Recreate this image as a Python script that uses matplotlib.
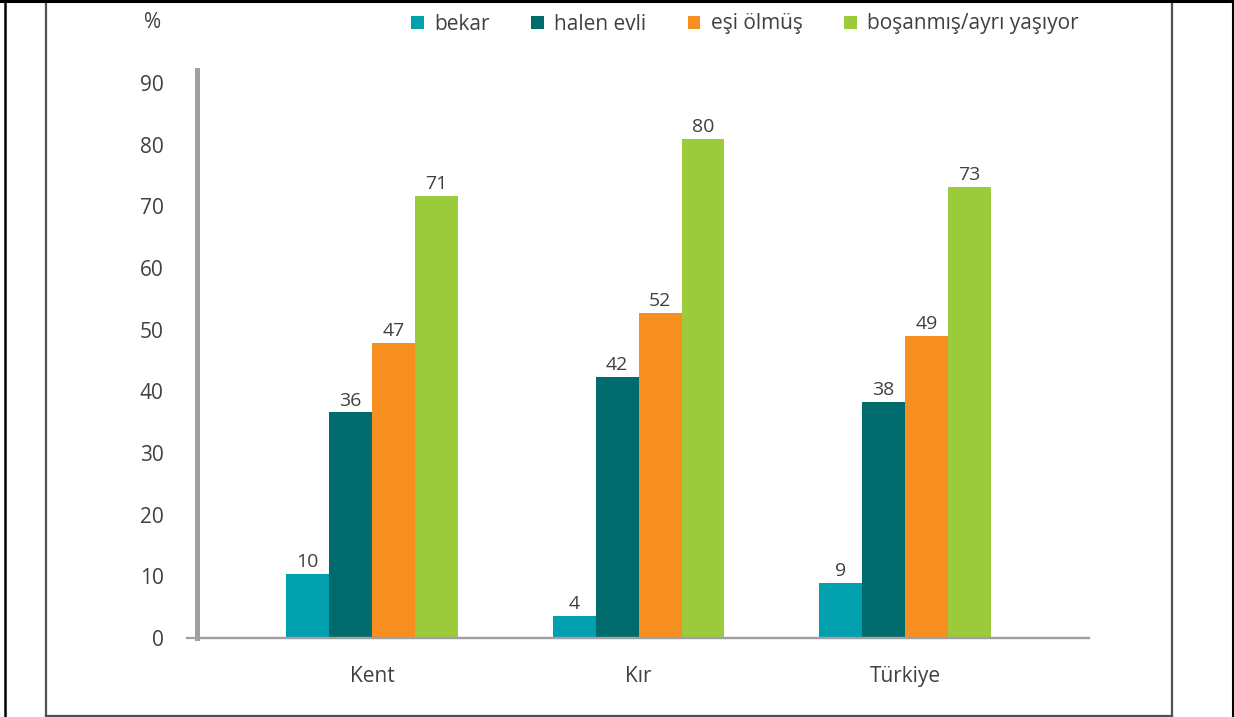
import numpy as np
import matplotlib
matplotlib.use("Agg")
import matplotlib.pyplot as plt
from matplotlib.lines import Line2D

plt.rcParams['font.family'] = ['Open Sans', 'DejaVu Sans']

categories = ['Kent', 'Kır', 'Türkiye']
series = ['bekar', 'halen evli', 'eşi ölmüş', 'boşanmış/ayrı yaşıyor']
# bar heights, labels as printed
bekar = [10.4, 3.6, 8.9]
halen_evli = [36.6, 42.3, 38.3]
esi_olmus = [47.8, 52.7, 49.0]
bosanmis = [71.7, 80.9, 73.1]
bekar_lbl = ['10', '4', '9']
halen_evli_lbl = ['36', '42', '38']
esi_olmus_lbl = ['47', '52', '49']
bosanmis_lbl = ['71', '80', '73']
colors = ['#00A0AF', '#006B6C', '#F68F1F', '#9BCB3B']

W, H = 1234, 717
fig = plt.figure(figsize=(W / 100, H / 100), dpi=100)
ax = fig.add_axes([197 / W, (H - 638) / H, (1089 - 197) / W, (638 - 70) / H])

index = np.arange(len(categories))
w = 0.161
txt = '#404040'
vals_all = [bekar, halen_evli, esi_olmus, bosanmis]
lbls_all = [bekar_lbl, halen_evli_lbl, esi_olmus_lbl, bosanmis_lbl]
for k, name in enumerate(series):
    bars = ax.bar(index + (k - 1.5) * w, vals_all[k], width=w, color=colors[k], label=name)
    ax.bar_label(bars, labels=lbls_all[k], padding=2, fontsize=14, color=txt)

ax.set_xlim(-0.657, 2.69)
ax.set_ylim(0, 92.1)
ax.set_yticks(range(0, 91, 10))
ax.set_xticks(index, categories)
ax.tick_params(axis='y', length=0, pad=24, labelsize=15, labelcolor=txt)
ax.tick_params(axis='x', length=0, pad=20, labelsize=15, labelcolor=txt)

for s in ['top', 'right']:
    ax.spines[s].set_visible(False)
ax.spines['left'].set_color('#A0A0A4')
ax.spines['left'].set_linewidth(3.6)
ax.spines['bottom'].set_color('#A0A0A4')
ax.spines['bottom'].set_linewidth(1.6)
ax.axhline(0, xmin=-10 / 892, xmax=1, color='#A0A0A4', lw=1.6, clip_on=False)

fig.text(153 / W, 1 - 22 / H, '%', ha='center', va='center', fontsize=15, color=txt)

fig.legend(loc='center left', bbox_to_anchor=(411 / W, 1 - 24 / H), ncol=4,
           frameon=False, fontsize=15, handlelength=0.6, handleheight=0.6,
           handletextpad=0.5, columnspacing=2.0, borderpad=0, borderaxespad=0,
           labelcolor=txt)

# frames around the chart
def line(x0, y0, x1, y1, c, lw):
    fig.add_artist(Line2D([x0 / W, x1 / W], [1 - y0 / H, 1 - y1 / H], color=c, lw=lw,
                          transform=fig.transFigure))

line(46, 0, 46, 716, '#505050', 1.6)
line(1172, 0, 1172, 716, '#505050', 1.6)
line(46, 716, 1172, 716, '#505050', 1.6)
line(5, 0, 5, H, 'black', 1.8)
line(1233, 0, 1233, H, 'black', 1.5)
line(0, 1, W, 1, 'black', 2.2)

fig.savefig('out.png', dpi=100)
